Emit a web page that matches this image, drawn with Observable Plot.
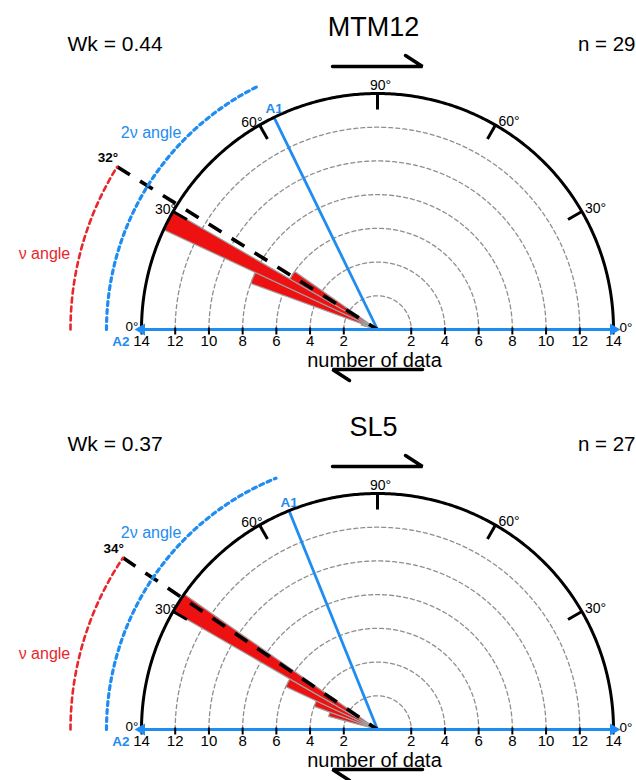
<!DOCTYPE html>
<html><head><meta charset="utf-8">
<script src="https://cdn.jsdelivr.net/npm/d3@7"></script>
<script src="https://cdn.jsdelivr.net/npm/@observablehq/plot@0.6"></script>
<style>
body{margin:0;background:#fff;}
#chart{width:636px;}
#chart svg{display:block;}
</style></head><body><div id="chart"></div>
<script>
// ---------------- data ----------------
const panelNames = ["MTM12", "SL5"];
const wkValues = [0.44, 0.37];
const nValues = [29, 27];
const nuAngles = [32, 34];            // ν angle, degrees measured from A2 (left)
const binStart = [15, 20, 25, 30];    // 5° bins, degrees from A2
const binWidth = 5;
const countsMTM12 = [1, 8, 14, 6];
const countsSL5 = [3, 4, 6, 14];
const radialTicks = [2, 4, 6, 8, 10, 12, 14];
const angleTicks = [30, 60, 90, 120, 150];
const angleTickLabels = ["30°", "60°", "90°", "60°", "30°"];
const rMax = 14;

// ---------------- layout ----------------
const W = 636, K = 236 / 14, CX = 377, CY = 329;
const heights = [400, 380];
const BLUE = "#1e8cf0", RED = "#ee1111", ARCRED = "#e8262b";
const FONT = "'Liberation Sans', Arial, Helvetica, sans-serif";
const ux = p => (p - CX) / K, uy = p => (CY - p) / K;
const rad = d => d * Math.PI / 180;
const px = (a, r) => -r * Math.cos(rad(a));
const py = (a, r) => r * Math.sin(rad(a));
const arc = (r, a0, a1, step = 0.5) => {
  const n = Math.max(2, Math.ceil(Math.abs(a1 - a0) / step)), pts = [];
  for (let j = 0; j <= n; j++) { const a = a0 + (a1 - a0) * j / n; pts.push({x: px(a, r), y: py(a, r)}); }
  return pts;
};
const rNu = 307 / K, rBlue = 271 / K, tickLen = 0.95;
const arrowHalf = 45 / K, arrowTop = uy(66), arrowBot = uy(369), barbDx = 17 / K, barbDy = 11 / K;

function panel(i) {
  const H = heights[i];
  const counts = i === 0 ? countsMTM12 : countsSL5;
  const nu = nuAngles[i];
  const grid = radialTicks.filter(r => r < rMax).flatMap(r => arc(r, 0, 180).map(p => ({...p, r})));
  const outer = arc(rMax, 0, 180);
  const wedges = binStart.flatMap((a0, j) =>
    [{x: 0, y: 0}, ...arc(counts[j], a0, a0 + binWidth), {x: 0, y: 0}].map(p => ({...p, bin: j})));
  const ticks = angleTicks.map((a, j) => ({a, label: angleTickLabels[j],
    x1: px(a, rMax), y1: py(a, rMax), x2: px(a, rMax - tickLen), y2: py(a, rMax - tickLen)}));
  const axisTicks = radialTicks.flatMap(r => [{x: -r, y: 0, label: String(r)}, {x: r, y: 0, label: String(r)}]);
  const nuEnd = {x: px(nu, rNu), y: py(nu, rNu)};
  const a1End = {x: px(2 * nu, rMax), y: py(2 * nu, rMax)};
  const txt = (data, o) => Plot.text(data, {x: "x", y: "y", text: "label", lineAnchor: "bottom", ...o});

  return Plot.plot({
    width: W, height: H, margin: 0,
    x: {domain: [ux(0), ux(W)], range: [0, W], axis: null},
    y: {domain: [uy(H), uy(0)], range: [H, 0], axis: null},
    style: {fontFamily: FONT, background: "#fff", overflow: "visible"},
    marks: [
      // dashed count circles
      Plot.line(grid, {x: "x", y: "y", z: "r", stroke: "#8f8f8f", strokeWidth: 1.3, strokeDasharray: "4,3"}),
      // rose wedges
      Plot.line(wedges, {x: "x", y: "y", z: "bin", fill: RED, stroke: "#a0a0a0", strokeWidth: 1.2, curve: "linear-closed"}),
      // A1 line (2ν)
      Plot.link([a1End], {x1: 0, y1: 0, x2: "x", y2: "y", stroke: BLUE, strokeWidth: 2.8}),
      // ν direction (dashed)
      Plot.link([nuEnd], {x1: "x", y1: "y", x2: 0, y2: 0, stroke: "black", strokeWidth: 3.6, strokeDasharray: "15,12"}),
      // outer semicircle
      Plot.line(outer, {x: "x", y: "y", stroke: "black", strokeWidth: 3}),
      Plot.link(ticks, {x1: "x1", y1: "y1", x2: "x2", y2: "y2", stroke: "black", strokeWidth: 3}),
      // angle arcs
      Plot.line(arc(rBlue, 0, 2 * nu), {x: "x", y: "y", stroke: BLUE, strokeWidth: 3.2, strokeDasharray: "4,4"}),
      Plot.line(arc(rNu, 0, nu), {x: "x", y: "y", stroke: ARCRED, strokeWidth: 2.6, strokeDasharray: "5,4"}),
      // A2 axis with arrows
      Plot.link([{x1: -rMax, x2: rMax}], {x1: "x1", x2: "x2", y1: 0, y2: 0, stroke: BLUE, strokeWidth: 3}),
      Plot.link(axisTicks, {x1: "x", x2: "x", y1: 2 / K, y2: -5 / K, stroke: "black", strokeWidth: 2}),
      Plot.dot([{x: -rMax, s: -90}, {x: rMax, s: 90}], {x: "x", y: 0, rotate: "s", symbol: "triangle", r: 4.5, fill: BLUE}),
      // axis labels
      txt(axisTicks, {fontSize: 15, dy: 16, fill: "black"}),
      txt([{x: -rMax, y: 0, label: "0°"}], {fontSize: 13.5, textAnchor: "end", dx: -3, dy: 1}),
      txt([{x: rMax, y: 0, label: "0°"}], {fontSize: 13.5, textAnchor: "start", dx: 6, dy: 2}),
      txt([{x: -rMax, y: 0, label: "A2"}], {fontSize: 13.5, fontWeight: "bold", fill: BLUE, textAnchor: "end", dx: -12, dy: 16}),
      txt([{x: a1End.x, y: a1End.y, label: "A1"}], {fontSize: 13.5, fontWeight: "bold", fill: BLUE, textAnchor: "middle", dx: 0, dy: -4}),
      txt([{x: 0, y: 0, label: "number of data"}], {fontSize: 20, dy: 37, dx: -3}),
      // angle tick labels
      txt(ticks.filter(t => t.a < 90).map(t => ({x: t.x1, y: t.y1, label: t.label})), {fontSize: 14, textAnchor: "end", dx: 3, dy: 2}),
      txt(ticks.filter(t => t.a === 90).map(t => ({x: t.x1, y: t.y1, label: t.label})), {fontSize: 14, textAnchor: "middle", dx: 3, dy: -4}),
      txt(ticks.filter(t => t.a > 90).map(t => ({x: t.x1, y: t.y1, label: t.label})), {fontSize: 14, textAnchor: "start", dx: 3, dy: 1}),
      // ν labels
      txt([{...nuEnd, label: nu + "°"}], {fontSize: 13.5, fontWeight: "bold", textAnchor: "end", dx: 1, dy: -5}),
      txt([{x: px(41, 17.8), y: py(41, 17.8), label: "2ν angle"}], {fontSize: 16, fill: BLUE, textAnchor: "middle", lineAnchor: "middle"}),
      txt([{x: px(12.8, 20.26), y: py(12.8, 20.26), label: "ν angle"}], {fontSize: 16, fill: ARCRED, textAnchor: "middle", lineAnchor: "middle"}),
      // shear arrows
      Plot.line([{x: -arrowHalf, y: arrowTop}, {x: arrowHalf, y: arrowTop}, {x: arrowHalf - barbDx, y: arrowTop + barbDy}],
        {x: "x", y: "y", stroke: "black", strokeWidth: 3.5, strokeLinejoin: "miter"}),
      Plot.line([{x: arrowHalf, y: arrowBot}, {x: -arrowHalf, y: arrowBot}, {x: -arrowHalf + barbDx, y: arrowBot - barbDy}],
        {x: "x", y: "y", stroke: "black", strokeWidth: 3.5, strokeLinejoin: "miter"}),
      // header texts
      txt([{x: ux(373), y: uy(35), label: panelNames[i]}], {fontSize: 27, textAnchor: "middle"}),
      txt([{x: ux(67), y: uy(50), label: "Wk = " + wkValues[i].toFixed(2)}], {fontSize: 21, textAnchor: "start"}),
      txt([{x: ux(635), y: uy(50), label: "n = " + nValues[i]}], {fontSize: 20.5, textAnchor: "end"})
    ]
  });
}

const root = document.getElementById("chart");
panelNames.forEach((_, i) => root.appendChild(panel(i)));
</script></body></html>
